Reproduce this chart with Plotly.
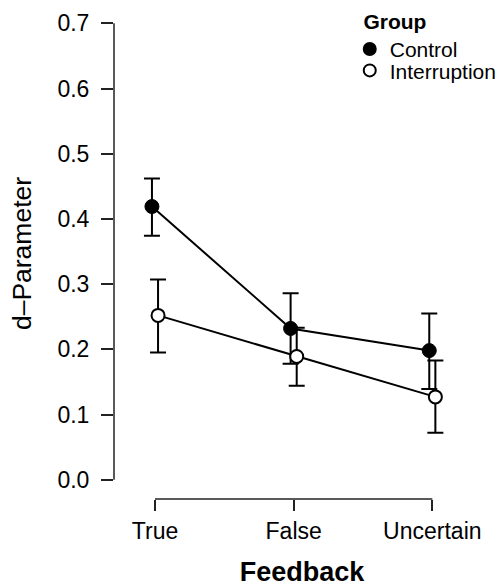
import plotly.graph_objects as go

categories = ["True", "False", "Uncertain"]
control_mean = [0.419, 0.232, 0.198]
control_upper = [0.462, 0.286, 0.255]
control_lower = [0.374, 0.178, 0.139]
interruption_mean = [0.252, 0.189, 0.127]
interruption_upper = [0.307, 0.233, 0.183]
interruption_lower = [0.195, 0.144, 0.072]
y_ticks = [0.0, 0.1, 0.2, 0.3, 0.4, 0.5, 0.6, 0.7]

FONT = "Liberation Sans, Arial, Helvetica, sans-serif"
DODGE = 0.022
pos = list(range(len(categories)))

def err(mean, up, lo):
    return dict(type="data", symmetric=False,
                array=[u - m for u, m in zip(up, mean)],
                arrayminus=[m - l for m, l in zip(mean, lo)],
                color="black", thickness=2, width=8)

xc = [p - DODGE for p in pos]
xi = [p + DODGE for p in pos]

fig = go.Figure()
# connecting lines
fig.add_trace(go.Scatter(x=xc, y=control_mean, mode="lines", showlegend=False,
                         line=dict(color="black", width=2), hoverinfo="skip"))
fig.add_trace(go.Scatter(x=xi, y=interruption_mean, mode="lines", showlegend=False,
                         line=dict(color="black", width=2), hoverinfo="skip"))
# points with error bars
fig.add_trace(go.Scatter(
    x=xc, y=control_mean, name="Control", mode="markers", legend="legend",
    marker=dict(size=14, color="black", line=dict(color="black", width=1)),
    error_y=err(control_mean, control_upper, control_lower),
))
fig.add_trace(go.Scatter(
    x=xi, y=interruption_mean, name="Interruption", mode="markers", legend="legend2",
    marker=dict(size=13, color="white", line=dict(color="black", width=2)),
    error_y=err(interruption_mean, interruption_upper, interruption_lower),
))

axis_col = "#222222"
leg_common = dict(font=dict(size=21, family=FONT), xanchor="left", yanchor="top",
                  bgcolor="rgba(0,0,0,0)", itemsizing="constant")
fig.update_layout(
    width=502, height=588,
    margin=dict(l=114, r=12, t=8, b=89, autoexpand=False),
    plot_bgcolor="white", paper_bgcolor="white",
    font=dict(family=FONT, size=23, color="black"),
    showlegend=True,
    legend=dict(title=dict(text="<b>\u00a0\u00a0Group</b>", font=dict(size=21, family=FONT)),
                x=0.627, y=1.013, **leg_common),
    legend2=dict(x=0.627, y=0.914, **leg_common),
    xaxis=dict(
        range=[-0.2957, 2.416], tickmode="array", tickvals=pos, ticktext=categories,
        showgrid=False, zeroline=False, showline=False, automargin=False,
        ticks="outside", ticklen=11, tickwidth=1.5, tickcolor=axis_col,
        tickfont=dict(size=23, family=FONT),
        title=dict(text="<b>Feedback</b>", font=dict(size=27, family=FONT), standoff=19),
    ),
    yaxis=dict(
        range=[-0.0296, 0.7235], tickmode="array", tickvals=y_ticks,
        ticktext=[f"{v:.1f}" for v in y_ticks],
        showgrid=False, zeroline=False, showline=False, automargin=False,
        ticks="outside", ticklen=12, tickwidth=1.5, tickcolor=axis_col,
        tickfont=dict(size=23, family=FONT), ticklabelstandoff=7,
        title=dict(text="d\u2013Parameter", font=dict(size=26.5, family=FONT), standoff=18),
    ),
)
fig.add_shape(type="line", xref="paper", yref="y", x0=0, x1=0,
              y0=y_ticks[0], y1=y_ticks[-1], line=dict(color=axis_col, width=1.5))
fig.add_shape(type="line", xref="x", yref="paper", x0=pos[0], x1=pos[-1],
              y0=0, y1=0, line=dict(color=axis_col, width=1.5))

fig.write_html("out.html")
